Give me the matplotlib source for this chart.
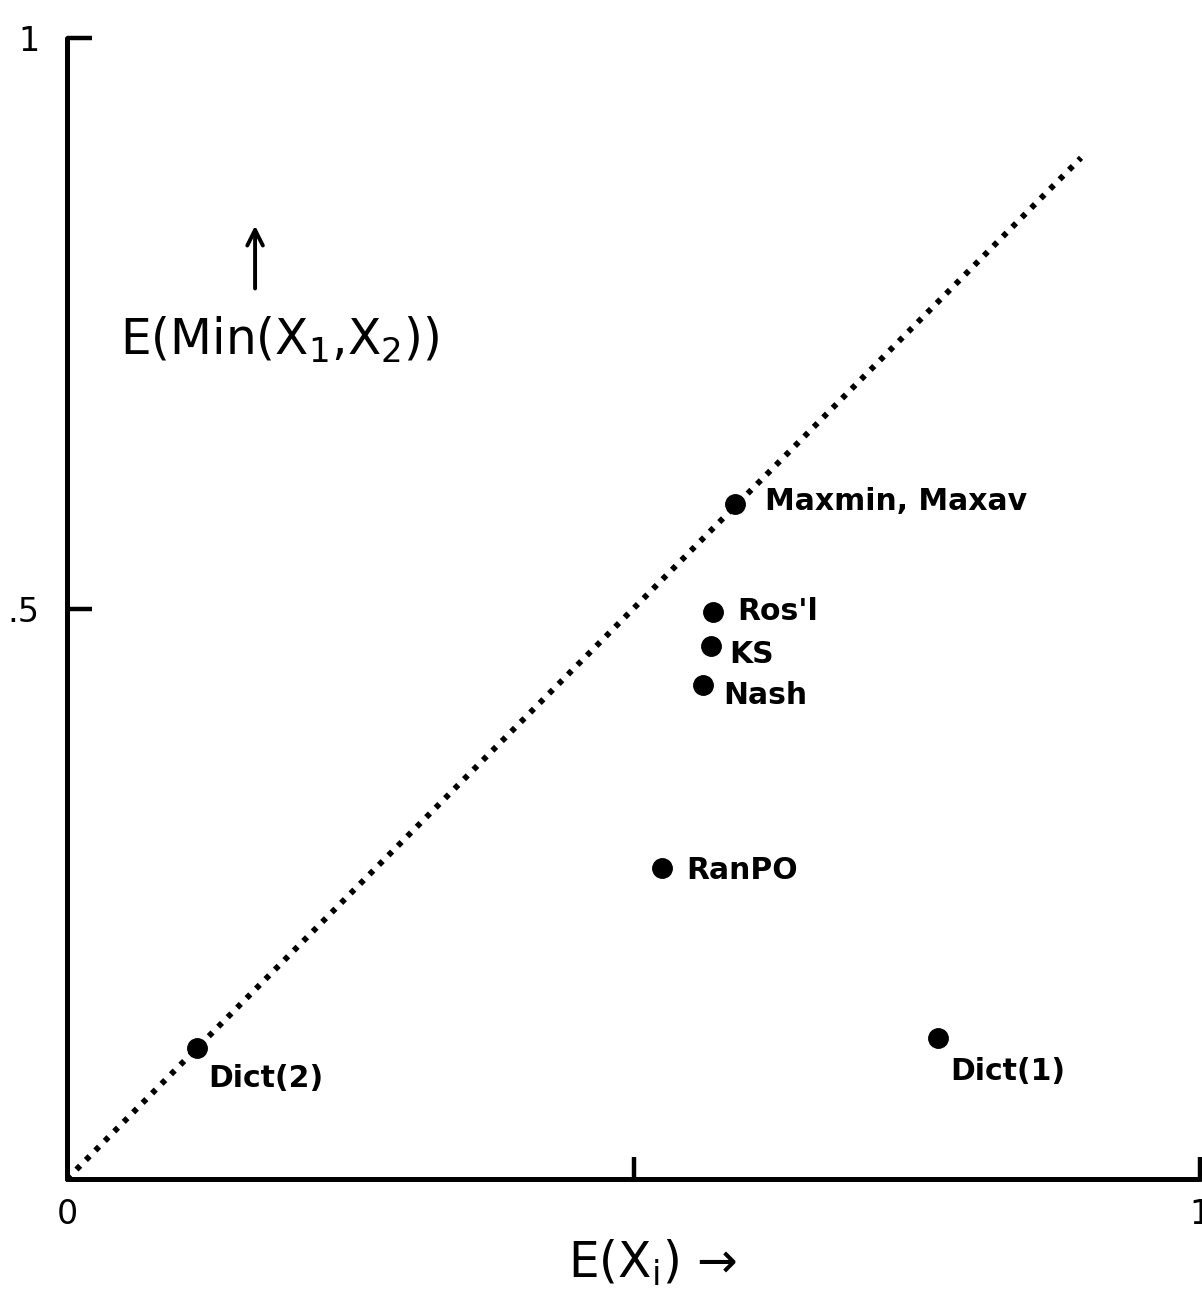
import matplotlib
matplotlib.use("Agg")
import matplotlib.pyplot as plt

# bargaining solutions: E(X_i) vs E(Min(X1, X2))
names = ["Maxmin, Maxav", "Ros'l", "KS", "Nash", "RanPO", "Dict(2)", "Dict(1)"]
e_x = [0.590, 0.570, 0.568, 0.561, 0.525, 0.115, 0.769]
e_min = [0.592, 0.497, 0.467, 0.433, 0.273, 0.115, 0.124]
# label offsets in pixels (points ~ px*0.72)
offsets = [(30, 2), (24, 0), (19, -8), (21, -11), (24, -3), (11, -31), (12, -34)]
diag_end = 0.895

plt.rcParams["font.family"] = "DejaVu Sans"
plt.rcParams["mathtext.fontset"] = "dejavusans"

fig = plt.figure(figsize=(12.02, 12.95), dpi=100)
ax = fig.add_axes([67 / 1202, 116 / 1295, 1133 / 1202, 1141 / 1295])
ax.set_xlim(0, 1)
ax.set_ylim(0, 1)

# diagonal y = x
ax.plot([0, diag_end], [0, diag_end], color="black", lw=4.2,
        linestyle=(0, (0.9, 1.4)), dash_capstyle="butt", clip_on=False)

ax.plot(e_x, e_min, "o", color="black", ms=14, clip_on=False, zorder=3)

for name, x, y, (dx, dy) in zip(names, e_x, e_min, offsets):
    ax.annotate(name, (x, y), xytext=(dx * 0.72, dy * 0.72), textcoords="offset points",
                ha="left", va="center", fontsize=21.5, fontweight="bold")

for side in ["top", "right"]:
    ax.spines[side].set_visible(False)
for side in ["left", "bottom"]:
    ax.spines[side].set_linewidth(3.6)
    ax.spines[side].set_capstyle("round")

ax.set_xticks([0, 0.5, 1])
ax.set_xticklabels(["0", "", "1"])
ax.set_yticks([0.5, 1])
ax.set_yticklabels([".5", "1"])
ax.tick_params(axis="x", direction="in", length=16, width=3.2, pad=14, labelsize=24)
ax.tick_params(axis="y", direction="in", length=18, width=3.2, pad=20, labelsize=24)
ax.xaxis.get_major_ticks()[0].tick1line.set_visible(False)

# axis labels with arrows
ax.text(0.047, 0.735, r"E(Min(X$_1$,X$_2$))", transform=ax.transAxes,
        ha="left", va="center", fontsize=35)
ax.annotate("", xy=(0.166, 0.838), xytext=(0.166, 0.778), xycoords="axes fraction",
            arrowprops=dict(arrowstyle="->", lw=2.8, color="black", mutation_scale=28))
ax.text(0.442, -0.074, r"E(X$_\mathrm{i}$) →", transform=ax.transAxes,
        ha="left", va="center", fontsize=35)

fig.savefig("out.png", dpi=100)
